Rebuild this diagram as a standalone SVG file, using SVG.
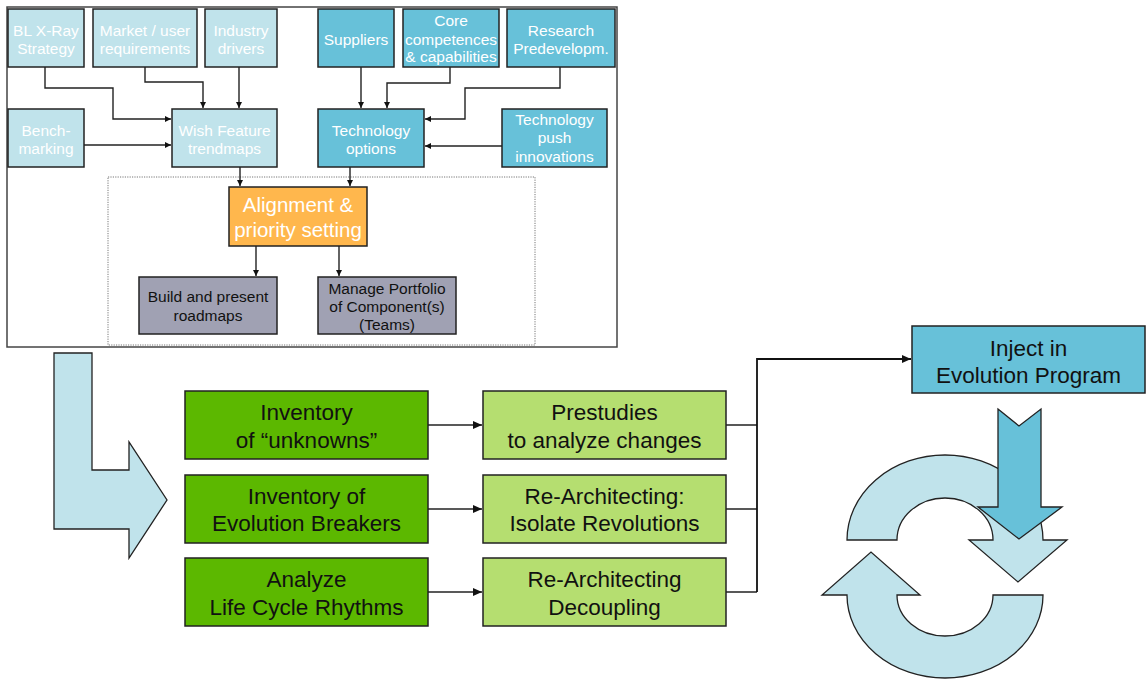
<svg xmlns="http://www.w3.org/2000/svg" width="1146" height="679" viewBox="0 0 1146 679">
  <defs>
    <marker id="ah-s" markerUnits="userSpaceOnUse" markerWidth="7" markerHeight="7" refX="6" refY="3" orient="auto">
      <path d="M0,0 L6,3 L0,6 z" fill="#111"/>
    </marker>
    <marker id="ah-m" markerUnits="userSpaceOnUse" markerWidth="10" markerHeight="10" refX="9" refY="4" orient="auto">
      <path d="M0,0 L9,4 L0,8 z" fill="#111"/>
    </marker>
    <style>
      text { font-family: "Liberation Sans", Arial, sans-serif; text-anchor: middle; }
      .box { stroke: #222; stroke-width: 1.5; }
      .lb { fill: #C0E3EB; }
      .db { fill: #67C1D9; }
      .org { fill: #FFB74D; }
      .gry { fill: #A0A1B3; }
      .grn { fill: #5CB800; }
      .lgr { fill: #B5DE70; }
      .tw { fill: #FFFFFF; font-size: 15.5px; }
      .tk { fill: #111; font-size: 15.5px; }
      .tb { fill: #111; font-size: 22.5px; }
      .ta { fill: #FFFFFF; font-size: 20.5px; }
      .con { fill: none; stroke: #222; stroke-width: 1.4; }
      .conb { fill: none; stroke: #111; stroke-width: 1.8; }
      .shape { stroke: #222; stroke-width: 1.3; }
    </style>
  </defs>

  <rect width="1146" height="679" fill="#FFFFFF"/>

  <!-- frame around the roadmap process -->
  <rect x="7" y="7" width="610" height="340" fill="none" stroke="#444" stroke-width="1.5"/>
  <rect x="108" y="177" width="427" height="168" fill="none" stroke="#777" stroke-width="1" stroke-dasharray="1.2,1.2"/>

  <!-- connectors -->
  <g id="connectors">
    <path class="con" d="M45,67 V88 H113 V119 H171" marker-end="url(#ah-s)"/>
    <path class="con" d="M145,67 V82 H203 V108" marker-end="url(#ah-s)"/>
    <path class="con" d="M239,67 V108" marker-end="url(#ah-s)"/>
    <path class="con" d="M84,145 H171" marker-end="url(#ah-s)"/>
    <path class="con" d="M361,67 V108" marker-end="url(#ah-s)"/>
    <path class="con" d="M450,67 V83 H387 V108" marker-end="url(#ah-s)"/>
    <path class="con" d="M560,67 V88 H465 V119 H425" marker-end="url(#ah-s)"/>
    <path class="con" d="M502,146 H425" marker-end="url(#ah-s)"/>
    <path class="con" d="M240,167 V186" marker-end="url(#ah-s)"/>
    <path class="con" d="M350,167 V186" marker-end="url(#ah-s)"/>
    <path class="con" d="M256,246 V276" marker-end="url(#ah-s)"/>
    <path class="con" d="M339,246 V276" marker-end="url(#ah-s)"/>
    <path class="con" d="M428,425 H482" marker-end="url(#ah-m)"/>
    <path class="con" d="M428,509 H482" marker-end="url(#ah-m)"/>
    <path class="con" d="M428,592 H482" marker-end="url(#ah-m)"/>
    <path class="con" d="M726,425 H757 M726,509 H757 M726,592 H757"/>
    <path class="conb" d="M757,592 V359 H911" marker-end="url(#ah-m)"/>
  </g>

  <!-- input boxes, market side -->
  <g id="bl-xray"><rect class="box lb" x="8" y="9" width="76" height="58"/><text class="tw" x="46" y="36">BL X-Ray</text><text class="tw" x="46" y="54">Strategy</text></g>
  <g id="market"><rect class="box lb" x="93" y="9" width="104" height="58"/><text class="tw" x="145" y="36">Market / user</text><text class="tw" x="145" y="54">requirements</text></g>
  <g id="industry"><rect class="box lb" x="205" y="9" width="72" height="58"/><text class="tw" x="241" y="36">Industry</text><text class="tw" x="241" y="54">drivers</text></g>
  <g id="benchmarking"><rect class="box lb" x="8" y="109" width="76" height="58"/><text class="tw" x="46" y="136">Bench-</text><text class="tw" x="46" y="154">marking</text></g>
  <g id="wish-feature"><rect class="box lb" x="172" y="109" width="105" height="58"/><text class="tw" x="224.5" y="136">Wish Feature</text><text class="tw" x="224.5" y="154">trendmaps</text></g>

  <!-- input boxes, technology side -->
  <g id="suppliers"><rect class="box db" x="318" y="9" width="76" height="58"/><text class="tw" x="356" y="45">Suppliers</text></g>
  <g id="core"><rect class="box db" x="403" y="9" width="96" height="58"/><text class="tw" x="451" y="26">Core</text><text class="tw" x="451" y="44.5">competences</text><text class="tw" x="451" y="62">&amp; capabilities</text></g>
  <g id="research"><rect class="box db" x="507" y="9" width="108" height="58"/><text class="tw" x="561" y="36">Research</text><text class="tw" x="561" y="54">Predevelopm.</text></g>
  <g id="tech-options"><rect class="box db" x="318" y="109" width="106" height="58"/><text class="tw" x="371" y="136">Technology</text><text class="tw" x="371" y="154">options</text></g>
  <g id="tech-push"><rect class="box db" x="502" y="109" width="105" height="58"/><text class="tw" x="554.5" y="125">Technology</text><text class="tw" x="554.5" y="143">push</text><text class="tw" x="554.5" y="162">innovations</text></g>

  <!-- alignment and outputs -->
  <g id="alignment"><rect class="box org" x="229" y="187" width="138" height="59"/><text class="ta" x="298" y="212">Alignment &amp;</text><text class="ta" x="298" y="237">priority setting</text></g>
  <g id="roadmaps"><rect class="box gry" x="139" y="277" width="138" height="57"/><text class="tk" x="208" y="302">Build and present</text><text class="tk" x="208" y="321">roadmaps</text></g>
  <g id="portfolio"><rect class="box gry" x="318" y="277" width="138" height="57"/><text class="tk" x="387" y="293.5">Manage Portfolio</text><text class="tk" x="387" y="312">of Component(s)</text><text class="tk" x="387" y="330">(Teams)</text></g>

  <!-- bent flow arrow -->
  <g id="flow-arrow"><path class="shape" fill="#C0E3EB" d="M54,353 H92 V470 H129 V442 L167,500 L129,558 V529 H54 Z"/></g>

  <!-- inventories -->
  <g id="unknowns"><rect class="box grn" x="185" y="391" width="243" height="68"/><text class="tb" x="306.5" y="420">Inventory</text><text class="tb" x="306.5" y="448">of “unknowns”</text></g>
  <g id="breakers"><rect class="box grn" x="185" y="475" width="243" height="68"/><text class="tb" x="306.5" y="504">Inventory of</text><text class="tb" x="306.5" y="531">Evolution Breakers</text></g>
  <g id="rhythms"><rect class="box grn" x="185" y="558" width="243" height="68"/><text class="tb" x="306.5" y="587">Analyze</text><text class="tb" x="306.5" y="615">Life Cycle Rhythms</text></g>

  <!-- actions -->
  <g id="prestudies"><rect class="box lgr" x="483" y="391" width="243" height="68"/><text class="tb" x="604.5" y="420">Prestudies</text><text class="tb" x="604.5" y="448">to analyze changes</text></g>
  <g id="isolate"><rect class="box lgr" x="483" y="475" width="243" height="68"/><text class="tb" x="604.5" y="504">Re-Architecting:</text><text class="tb" x="604.5" y="531">Isolate Revolutions</text></g>
  <g id="decoupling"><rect class="box lgr" x="483" y="558" width="243" height="68"/><text class="tb" x="604.5" y="587">Re-Architecting</text><text class="tb" x="604.5" y="615">Decoupling</text></g>

  <!-- evolution program -->
  <g id="inject"><rect class="box db" x="912" y="326" width="233" height="67"/><text class="tb" x="1028.5" y="356">Inject in</text><text class="tb" x="1028.5" y="383">Evolution Program</text></g>

  <!-- cycle -->
  <g id="cycle">
    <path class="shape" fill="#C0E3EB" d="M847,540 A98,85 0 0 1 1043,540 L1067,540 L1018,582 L969,540 L993,540 A48,42 0 0 0 897,540 Z"/>
    <path class="shape" fill="#C0E3EB" d="M1043,595 A98,83 0 0 1 847,595 L822,595 L871,552 L920,595 L897,595 A48,41 0 0 0 993,595 Z"/>
    <path class="shape" fill="#67C1D9" d="M998,409 L1019,426 L1041,409 V507 H1062 L1019,539 L978,507 H998 Z"/>
  </g>
</svg>
